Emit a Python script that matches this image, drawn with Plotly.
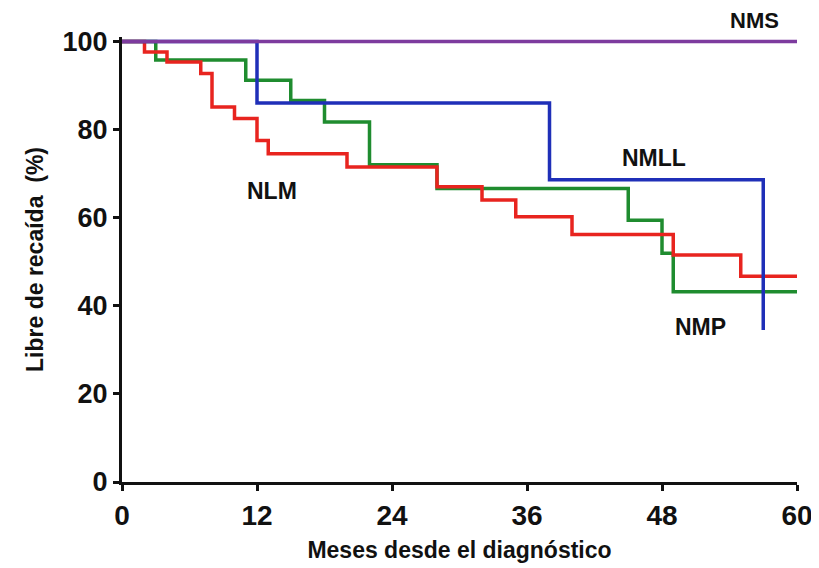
import plotly.graph_objects as go

# Kaplan-Meier step data (months, % relapse-free)
nms_t = [0, 60]
nms_v = [100, 100]

nmll_t = [0, 12, 38, 57]
nmll_v = [100, 86, 68.6, 34.5]

nmp_t = [0, 3, 11, 15, 18, 22, 28, 45, 48, 49, 60]
nmp_v = [100, 95.8, 91.2, 86.6, 81.7, 72, 66.6, 59.4, 51.9, 43.2, 43.2]

nlm_t = [0, 2, 4, 7, 8, 10, 12, 13, 20, 28, 32, 35, 40, 49, 55, 60]
nlm_v = [100, 97.6, 95.3, 92.7, 85.1, 82.5, 77.5, 74.5, 71.5, 67, 64, 60.2, 56.2, 51.5, 46.7, 46.7]

x_ticks = [0, 12, 24, 36, 48, 60]
y_ticks = [0, 20, 40, 60, 80, 100]

labels = ["NMLL", "NLM", "NMP"]
label_x = [47.3, 13.3, 51.4]
label_y = [73.5, 66.0, 35.1]

FONT = "Liberation Sans, Arial, sans-serif"

fig = go.Figure()
series = [
    (nmp_t, nmp_v, "#1f8c2f"),
    (nlm_t, nlm_v, "#e8241f"),
    (nmll_t, nmll_v, "#1f2fb8"),
    (nms_t, nms_v, "#7d3b9e"),
]
for t, v, c in series:
    fig.add_trace(go.Scatter(x=t, y=v, mode="lines", line=dict(color=c, width=3.5, shape="hv"),
                             cliponaxis=False, showlegend=False, hoverinfo="skip"))

for txt, lx, ly in zip(labels, label_x, label_y):
    fig.add_annotation(x=lx, y=ly, text=txt, showarrow=False,
                       font=dict(family=FONT, size=23, color="#111111", weight="bold"))
fig.add_annotation(x=56.2, y=1.036, yref="paper", yanchor="middle", text="NMS", showarrow=False,
                   borderpad=0,
                   font=dict(family=FONT, size=22, color="#111111", weight="bold"))

fig.update_layout(
    width=819, height=568,
    margin=dict(l=114, r=30, t=29, b=94),
    paper_bgcolor="white", plot_bgcolor="white",
    font=dict(family=FONT, color="#111111"),
)
fig.update_xaxes(range=[0, 60], tickvals=x_ticks, ticktext=[str(v) for v in x_ticks],
                 automargin=False,
                 showgrid=False, zeroline=False, showline=True, linecolor="#111111", linewidth=3,
                 ticks="outside", ticklen=6, tickwidth=3, tickcolor="#111111",
                 tickfont=dict(family=FONT, size=28, weight="bold"),
                 title=dict(text="Meses desde el diagnóstico", standoff=13,
                            font=dict(family=FONT, size=23, weight="bold")))
fig.update_yaxes(range=[0, 101], tickvals=y_ticks, ticktext=[str(v) for v in y_ticks],
                 automargin=False,
                 showgrid=False, zeroline=False, showline=True, linecolor="#111111", linewidth=3,
                 ticks="outside", ticklen=6, tickwidth=3, tickcolor="#111111",
                 tickfont=dict(family=FONT, size=27, weight="bold"),
                 title=dict(text="Libre de recaída  (%)", standoff=13,
                            font=dict(family=FONT, size=23, weight="bold")))

fig.write_html("out.html")
